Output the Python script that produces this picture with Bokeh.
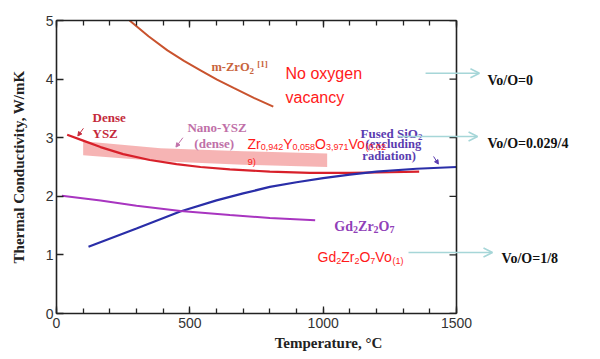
from bokeh.plotting import figure
from bokeh.models import Range1d, LinearAxis, SingleIntervalTicker, Label, Arrow, OpenHead, NormalHead, Span
from bokeh.embed import file_html
from bokeh.resources import INLINE

# ---------------- data ----------------
T_mzro2 = [274, 345, 416, 478, 540, 602, 664, 740, 813]
k_mzro2 = [5.0, 4.73, 4.49, 4.31, 4.15, 3.99, 3.85, 3.68, 3.53]

T_ysz = [40, 100, 165, 250, 350, 450, 540, 650, 800, 950, 1100, 1250, 1360]
k_ysz = [3.05, 2.95, 2.84, 2.72, 2.62, 2.55, 2.50, 2.46, 2.42, 2.40, 2.40, 2.41, 2.42]

T_nano = [100, 390, 700, 1015]
k_nano_top = [2.94, 2.82, 2.77, 2.73]
k_nano_bot = [2.70, 2.60, 2.54, 2.50]

T_sio2 = [120, 300, 464, 600, 700, 800, 900, 1000, 1100, 1200, 1350, 1500]
k_sio2 = [1.14, 1.45, 1.74, 1.93, 2.05, 2.16, 2.24, 2.31, 2.37, 2.42, 2.47, 2.50]

T_gzo = [20, 165, 300, 465, 650, 800, 970]
k_gzo = [2.01, 1.93, 1.84, 1.75, 1.68, 1.63, 1.59]

x_max = 1500
x_tick_step = 500
y_ticks = [0, 1, 2, 3, 4, 5]

vo_labels = ["Vo/O=0", "Vo/O=0.029/4", "Vo/O=1/8"]

# ---------------- figure ----------------
# frame extends right of 1500 so the arrows / labels there are drawn; the
# "box" of the chart is closed at 1500 by axis bounds and a span
p = figure(width=600, height=359, x_range=Range1d(0, 2040), y_range=Range1d(0, 5),
           output_backend="svg", toolbar_location=None,
           min_border_left=56, min_border_right=0, min_border_top=20, min_border_bottom=46,
           background_fill_color="white", border_fill_color="white")
p.outline_line_color = None
p.grid.visible = False

AX = "#222222"

def style_axis(ax, labels=True):
    ax.axis_line_color = AX
    ax.axis_line_width = 1.6
    ax.major_tick_line_color = AX
    ax.major_tick_line_width = 1.3
    ax.minor_tick_line_color = AX
    ax.minor_tick_line_width = 1.3
    ax.major_tick_in = 7
    ax.major_tick_out = 0
    ax.minor_tick_in = 5
    ax.minor_tick_out = 0
    ax.major_label_text_font = "Liberation Sans"
    ax.major_label_text_font_size = "14px"
    ax.major_label_text_color = "#333333"
    if not labels:
        ax.major_label_text_font_size = "0px"
        ax.major_label_text_color = None

xa = p.xaxis[0]
xa.ticker = SingleIntervalTicker(interval=x_tick_step, num_minor_ticks=5)
xa.bounds = (0, x_max)
style_axis(xa)
xa.major_label_standoff = 4
xa.axis_label = "Temperature, °C"
xa.axis_label_text_font = "Liberation Serif"
xa.axis_label_text_font_style = "bold"
xa.axis_label_text_font_size = "15px"
xa.axis_label_text_color = AX
xa.axis_label_standoff = 4

ya = p.yaxis[0]
ya.ticker = SingleIntervalTicker(interval=1, num_minor_ticks=0)
style_axis(ya)
ya.major_label_standoff = 3
ya.axis_label = "Thermal Conductivity, W/mK"
ya.axis_label_text_font = "Liberation Serif"
ya.axis_label_text_font_style = "bold"
ya.axis_label_text_font_size = "15px"
ya.axis_label_text_color = AX
ya.axis_label_standoff = 16

ta = LinearAxis(ticker=SingleIntervalTicker(interval=x_tick_step, num_minor_ticks=5), bounds=(0, x_max))
style_axis(ta, labels=False)
p.add_layout(ta, "above")

# right-hand border of the box at x = 1500, with inward ticks
p.add_layout(Span(location=x_max, dimension="height", line_color=AX, line_width=1.6))
tick_len = 7 * 2040 / 544  # 7 px expressed in data units
p.segment(x0=[x_max - tick_len] * len(y_ticks), y0=y_ticks, x1=[x_max] * len(y_ticks), y1=y_ticks,
          line_color=AX, line_width=1.3)

# ---------------- data marks ----------------
p.varea(x=T_nano, y1=k_nano_bot, y2=k_nano_top, fill_color="#f5b0b0", fill_alpha=0.95)
p.line(T_mzro2, k_mzro2, line_color="#c9532e", line_width=2)
p.line(T_ysz, k_ysz, line_color="#d8202a", line_width=2.2)
p.line(T_sio2, k_sio2, line_color="#2a2ea8", line_width=2.2)
p.line(T_gzo, k_gzo, line_color="#a835c0", line_width=2)

# ---------------- text helpers ----------------
ARIAL = {'Z': .611, 'r': .333, 'Y': .667, 'O': .778, 'V': .667, 'o': .556, 'G': .778,
         'd': .556, ',': .278, '(': .333, ')': .333, ' ': .278}
TIMESB = {'m': .833, '-': .333, 'Z': .667, 'r': .444, 'O': .778, ' ': .25, '[': .333,
          ']': .333, 'G': .778, 'd': .556, 'S': .556, 'i': .278, 'F': .611, 'u': .556,
          's': .389, 'e': .444}

def text_width(s, table, size):
    w = 0.0
    for ch in s:
        if ch.isdigit():
            w += .556 if table is ARIAL else .5
        else:
            w += table.get(ch, .5)
    return w * size

def add_runs(x, y, runs, main, sub, color, font, style, table):
    off = 0.0
    for txt, kind in runs:
        size = main if kind == 0 else sub
        dy = 0 if kind == 0 else (-3.5 if kind == 1 else 3)
        p.add_layout(Label(x=x, y=y, x_offset=off, y_offset=dy, text=txt,
                           text_font=font, text_font_style=style,
                           text_font_size=f"{size}px", text_color=color,
                           text_baseline="alphabetic", text_align="left"))
        off += text_width(txt, table, size)

def lab(x, y, txt, color, size, font="Liberation Serif", style="bold", baseline="middle"):
    p.add_layout(Label(x=x, y=y, text=txt, text_font=font, text_font_style=style,
                       text_font_size=f"{size}px", text_color=color,
                       text_baseline=baseline, text_align="left"))

# m-ZrO2 [1]
add_runs(581, 4.20, [("m-ZrO", 0), ("2", 1), (" ", 0), ("[1]", 2)], 12.5, 9,
         "#c8643c", "Liberation Serif", "bold", TIMESB)
# No oxygen vacancy
lab(859, 4.10, "No oxygen", "#ff1a1a", 16, "Liberation Sans", "normal", "alphabetic")
lab(859, 3.69, "vacancy", "#ff1a1a", 16, "Liberation Sans", "normal", "alphabetic")
# Dense YSZ
lab(135, 3.34, "Dense", "#c42a3c", 13)
lab(135, 3.08, "YSZ", "#c42a3c", 13)
# Nano-YSZ (dense)
lab(491, 3.17, "Nano-YSZ", "#c070a8", 13)
lab(517, 2.90, "(dense)", "#c070a8", 13)
# Fused SiO2
add_runs(1140, 3.07, [("Fused SiO", 0), ("2", 1)], 13, 9, "#5a3cb0",
         "Liberation Serif", "bold", TIMESB)
lab(1159, 2.90, "(excluding", "#5a3cb0", 12.5)
lab(1147, 2.68, "radiation)", "#5a3cb0", 12.5)
# Gd2Zr2O7
add_runs(1042, 1.485, [("Gd", 0), ("2", 1), ("Zr", 0), ("2", 1), ("O", 0), ("7", 1)], 14, 10,
         "#9040b8", "Liberation Serif", "bold", TIMESB)
# red formulas
add_runs(716, 2.90, [("Zr", 0), ("0,942", 1), ("Y", 0), ("0,058", 1), ("O", 0), ("3,971", 1),
                     ("Vo", 0), ("(0,02", 1)], 14, 9, "#ff1a1a", "Liberation Sans", "normal", ARIAL)
lab(716, 2.59, "9)", "#ff1a1a", 9.5, "Liberation Sans", "normal", "alphabetic")
add_runs(979, 0.956, [("Gd", 0), ("2", 1), ("Zr", 0), ("2", 1), ("O", 0), ("7", 1),
                      ("Vo", 0), ("(1)", 1)], 14, 9, "#ff1a1a", "Liberation Sans", "normal", ARIAL)

# small pointer arrows
for (x0, y0, x1, y1, c) in [(101, 3.16, 80, 3.03, "#c42a3c"),
                            (474, 3.00, 448, 2.84, "#c070a8"),
                            (1414, 2.68, 1432, 2.55, "#5a3cb0")]:
    p.add_layout(Arrow(end=NormalHead(size=4, fill_color=c, line_color=c),
                       x_start=x0, y_start=y0, x_end=x1, y_end=y1,
                       line_color=c, line_width=1))

# cyan arrows to the right + Vo/O labels
cy = "#a6d6d8"
for (x0, x1, y, tx, ty, t) in [(1384, 1586, 4.10, 1616, 3.98, vo_labels[0]),
                               (1282, 1579, 3.02, 1616, 2.90, vo_labels[1]),
                               (1320, 1635, 1.04, 1669, 0.94, vo_labels[2])]:
    p.add_layout(Arrow(end=OpenHead(size=9, line_color=cy, line_width=1.6),
                       x_start=x0, y_start=y, x_end=x1, y_end=y,
                       line_color=cy, line_width=1.6))
    lab(tx, ty, t, "#111111", 14)

open("out.html", "w").write(file_html(p, INLINE))
